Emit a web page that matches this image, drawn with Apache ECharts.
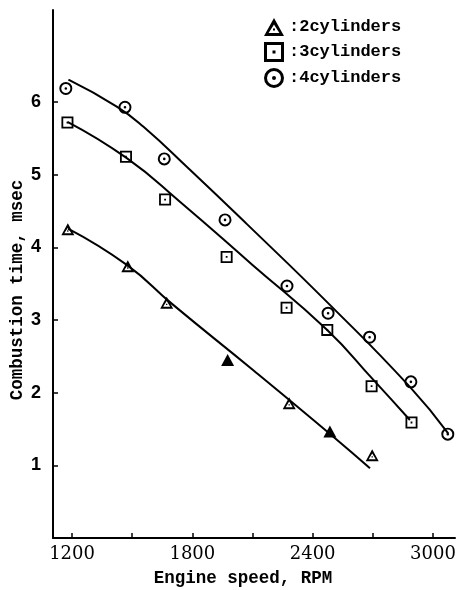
<!DOCTYPE html>
<html><head><meta charset="utf-8">
<script src="https://cdn.jsdelivr.net/npm/echarts@6/dist/echarts.min.js"></script>
<style>html,body{margin:0;padding:0;background:#fff}#c{width:458px;height:590px}</style>
</head><body><div id="c"></div><script>
// ---- data ----
const seriesNames = ['2cylinders', '3cylinders', '4cylinders'];

const rpm2  = [1179, 1478, 1672, 1976, 2283, 2486, 2697];
const time2 = [4.25, 3.74, 3.24, 2.45, 1.855, 1.465, 1.14];

const rpm3  = [1177, 1469, 1664, 1971, 2270, 2473, 2694, 2893];
const time3 = [5.72, 5.25, 4.66, 3.87, 3.17, 2.865, 2.09, 1.59];

const rpm4  = [1169, 1464, 1660, 1963, 2272, 2477, 2684, 2890, 3074];
const time4 = [6.19, 5.93, 5.22, 4.38, 3.47, 3.095, 2.765, 2.15, 1.43];

// fitted curves
const fitRpm2  = [1180, 1473, 1700, 2104, 2503, 2686];
const fitTime2 = [4.26, 3.76, 3.22, 2.31, 1.395, 0.96];

const fitRpm3  = [1177, 1473, 1738, 2100, 2470, 2702, 2885];
const fitTime3 = [5.73, 5.23, 4.63, 3.76, 2.87, 2.18, 1.625];

const fitRpm4  = [1182, 1423, 1555, 1788, 2071, 2486, 2885, 3076];
const fitTime4 = [6.31, 5.94, 5.665, 5.07, 4.325, 3.21, 2.08, 1.44];

const xTickValues  = [1200, 1500, 1800, 2100, 2400, 2700, 3000];
const xLabelValues = [1200, 1800, 2400, 3000];
const yTickValues  = [1, 2, 3, 4, 5, 6];

// ---- styling ----
const filledTriIdx = [3, 5];
const SYM_TRI  = 'path://M10 0 L20 18 L0 18 Z M10 6.5 L4.6 15 L15.4 15 Z M9 10.5 H11 V12.5 H9 Z';
const SYM_TRI_FILLED = 'path://M10 0 L20 18 L0 18 Z';
const SYM_SQ   = 'path://M0 0 H20 V20 H0 Z M3 3 V17 H17 V3 Z M8.5 8.5 H11.5 V11.5 H8.5 Z';
const SYM_CIR  = 'path://M10 0 A10 10 0 1 1 10 20 A10 10 0 1 1 10 0 Z M10 3 A7 7 0 1 0 10 17 A7 7 0 1 0 10 3 Z M10 8 A2 2 0 1 1 10 12 A2 2 0 1 1 10 8 Z';

const zip = (a, b) => a.map((v, i) => [v, b[i]]);
const mono = '"Liberation Mono", "DejaVu Sans Mono", monospace';

function fitSeries(xs, ys) {
  return {
    type: 'line', data: zip(xs, ys), smooth: 0.5, symbol: 'none', silent: true,
    lineStyle: { color: '#000', width: 2 }, z: 2
  };
}

const option = {
  animation: false,
  backgroundColor: '#fff',
  grid: { left: 53, right: 3, top: 10, bottom: 52, containLabel: false, outerBoundsMode: 'none' },
  legend: {
    orient: 'vertical', left: 259, top: 13, itemWidth: 20, itemHeight: 20, itemGap: 6,
    formatter: ':{name}',
    textStyle: { fontFamily: mono, fontWeight: 'bold', fontSize: 17, color: '#000' },
    data: [
      { name: seriesNames[0], icon: SYM_TRI },
      { name: seriesNames[1], icon: SYM_SQ },
      { name: seriesNames[2], icon: SYM_CIR }
    ]
  },
  xAxis: {
    type: 'value', min: 1105, max: 3110,
    axisLine: { lineStyle: { color: '#000', width: 2 } },
    axisTick: { inside: true, length: 5, customValues: xTickValues, lineStyle: { color: '#000', width: 1.5 } },
    axisLabel: { customValues: xLabelValues, formatter: v => String(v), fontFamily: '"DejaVu Serif", serif', fontSize: 18, color: '#000', margin: 7 },
    splitLine: { show: false },
    name: 'Engine speed, RPM', nameLocation: 'middle', nameGap: 32, nameMoveOverlap: false,
    nameTextStyle: { fontFamily: mono, fontWeight: 'bold', fontSize: 17.5, color: '#000', padding: [0, 22, 0, 0] }
  },
  yAxis: {
    type: 'value', min: 0, max: 7.27,
    axisLine: { lineStyle: { color: '#000', width: 2 } },
    axisTick: { inside: true, length: 5, customValues: yTickValues, lineStyle: { color: '#000', width: 1.5 } },
    axisLabel: { customValues: yTickValues, formatter: v => String(v), fontFamily: '"Liberation Sans", Arial, sans-serif', fontWeight: 'bold', fontSize: 18, color: '#000', margin: 12 },
    splitLine: { show: false },
    name: 'Combustion time, msec', nameLocation: 'middle', nameGap: 26, nameMoveOverlap: false,
    nameTextStyle: { fontFamily: mono, fontWeight: 'bold', fontSize: 17.5, color: '#000', padding: [0, 32, 0, 0] }
  },
  series: [
    fitSeries(fitRpm2, fitTime2),
    fitSeries(fitRpm3, fitTime3),
    fitSeries(fitRpm4, fitTime4),
    {
      name: seriesNames[0], type: 'scatter', symbol: SYM_TRI, symbolSize: [13, 12],
      itemStyle: { color: '#000', opacity: 1 }, z: 3,
      data: zip(rpm2, time2).map((p, i) => filledTriIdx.includes(i) ? { value: p, symbol: SYM_TRI_FILLED } : p)
    },
    {
      name: seriesNames[1], type: 'scatter', symbol: SYM_SQ, symbolSize: 12,
      itemStyle: { color: '#000', opacity: 1 }, z: 3,
      data: zip(rpm3, time3)
    },
    {
      name: seriesNames[2], type: 'scatter', symbol: SYM_CIR, symbolSize: 13,
      itemStyle: { color: '#000', opacity: 1 }, z: 3,
      data: zip(rpm4, time4)
    }
  ]
};

echarts.init(document.getElementById('c'), null, { renderer: 'canvas' }).setOption(option);
</script></body></html>
